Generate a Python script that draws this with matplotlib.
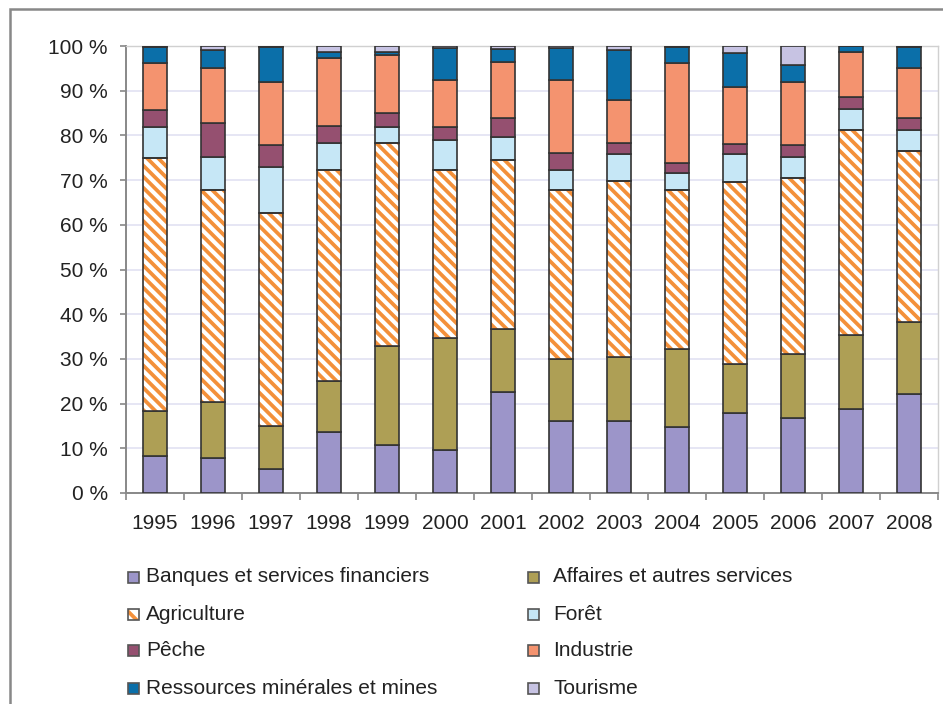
import numpy as np
import matplotlib
matplotlib.use("Agg")
import matplotlib.pyplot as plt
from matplotlib.patches import Rectangle
from matplotlib.ticker import FuncFormatter, MultipleLocator

#-----Data-----#
Years = ["1995","1996","1997","1998","1999","2000","2001","2002","2003","2004","2005","2006","2007","2008"]

Banques    = [8.3, 7.8, 5.3, 13.7, 10.7, 9.6, 22.7, 16.0, 16.0, 14.8, 17.8, 16.7, 18.7, 22.1]
Affaires   = [10.1, 12.6, 9.8, 11.4, 22.2, 25.0, 13.9, 14.0, 14.5, 17.4, 11.0, 14.4, 16.6, 16.2]
Agriculture= [56.5, 47.4, 47.6, 47.2, 45.5, 37.7, 38.0, 37.8, 39.4, 35.6, 40.8, 39.3, 45.9, 38.3]
Foret      = [6.9, 7.4, 10.2, 6.1, 3.5, 6.7, 5.0, 4.5, 5.9, 3.7, 6.2, 4.8, 4.6, 4.6]
Peche      = [3.9, 7.5, 5.0, 3.7, 3.0, 2.9, 4.4, 3.8, 2.6, 2.3, 2.3, 2.7, 2.9, 2.6]
Industrie  = [10.6, 12.4, 14.1, 15.3, 13.1, 10.6, 12.5, 16.4, 9.5, 22.5, 12.8, 14.1, 10.0, 11.2]
Mines      = [3.4, 4.0, 7.7, 1.3, 0.7, 7.0, 2.8, 7.0, 11.1, 3.5, 7.6, 3.7, 1.2, 4.7]
Tourisme   = [0.3, 0.9, 0.3, 1.3, 1.3, 0.5, 0.7, 0.5, 1.0, 0.2, 1.5, 4.3, 0.1, 0.3]

Labels = ["Banques et services financiers", "Affaires et autres services",
          "Agriculture", "Forêt", "Pêche", "Industrie",
          "Ressources minérales et mines", "Tourisme"]
Colors = ["#9c95c9", "#ae9f55", "white", "#c6e7f6", "#955070", "#f4936f", "#0b6fa9", "#c7c3e3"]
#-----Data-----#

HatchColor = "#f3903a"
EdgeColor = "#333333"
W, H = 943, 704

plt.rcParams["font.family"] = ["Liberation Sans", "DejaVu Sans"]
plt.rcParams["hatch.linewidth"] = 2.7

Fig = plt.figure(figsize=(W/100, H/100), dpi=100)
Ax = Fig.add_axes([126/W, 1-493/H, 812/W, 447/H])

Series = [Banques, Affaires, Agriculture, Foret, Peche, Industrie, Mines, Tourisme]
x = np.arange(len(Years))
Bottom = np.zeros(len(Years))
for i, Values in enumerate(Series):
    Values = np.array(Values)
    if Labels[i] == "Agriculture":
        #hatched bar first, dark outline drawn on top of it
        Ax.bar(x, Values, 0.43, bottom=Bottom, color="white", edgecolor=HatchColor,
               hatch="\\\\\\", linewidth=0, zorder=3)
        Ax.bar(x, Values, 0.43, bottom=Bottom, fill=False, edgecolor=EdgeColor,
               linewidth=1.2, zorder=4)
    else:
        Ax.bar(x, Values, 0.43, bottom=Bottom, color=Colors[i], edgecolor=EdgeColor,
               linewidth=1.2, zorder=3)
    Bottom = Bottom + Values

#-----Axes styling-----#
Ax.set_xlim(-0.5, len(Years)-0.5)
Ax.set_ylim(0, 100)
Ax.yaxis.set_major_locator(MultipleLocator(10))
Ax.yaxis.set_major_formatter(FuncFormatter(lambda v, p: "%d %%" % v))
Ax.set_xticks(x)
Ax.set_xticklabels(Years)
Ax.set_xticks(np.arange(len(Years)+1)-0.5, minor=True)
Ax.tick_params(axis="x", which="major", length=0, pad=15, labelsize=15, labelcolor="#222222")
Ax.tick_params(axis="x", which="minor", length=5, color="#888888", width=1.2)
Ax.tick_params(axis="y", length=4, color="#888888", width=1.2, pad=9, labelsize=15, labelcolor="#222222")
Ax.grid(axis="y", color="#e2e2f2", linewidth=1.2, zorder=0)
Ax.set_axisbelow(True)
for Side in ["left", "bottom"]:
    Ax.spines[Side].set_color("#888888")
    Ax.spines[Side].set_linewidth(1.4)
for Side in ["top", "right"]:
    Ax.spines[Side].set_color("#d0d0d0")
    Ax.spines[Side].set_linewidth(1.0)

#-----Legend (two columns, placed by hand)-----#
RowY = [577, 614, 650, 688]
MarkX = [128, 528]
TextX = [146, 553]
Size = 11
for i, Label in enumerate(Labels):
    Col = i % 2
    Row = i // 2
    Yc = RowY[Row]
    Corner = (MarkX[Col]/W, 1-(Yc+Size/2)/H)
    if Label == "Agriculture":
        Box = Rectangle(Corner, Size/W, Size/H, transform=Fig.transFigure,
                        facecolor="white", edgecolor=HatchColor, hatch="\\\\", linewidth=0)
        Fig.add_artist(Box)
        Box = Rectangle(Corner, Size/W, Size/H, transform=Fig.transFigure,
                        fill=False, edgecolor="#555555", linewidth=1.2)
    else:
        Box = Rectangle(Corner, Size/W, Size/H, transform=Fig.transFigure,
                        facecolor=Colors[i], edgecolor="#555555", linewidth=1.2)
    Fig.add_artist(Box)
    Fig.text(TextX[Col]/W, 1-Yc/H, Label, fontsize=15, color="#222222", va="center", ha="left")

#-----Outer frame-----#
Frame = Rectangle((10/W, -0.05), 1.2, 1-9/H+0.05, transform=Fig.transFigure,
                  fill=False, edgecolor="#888888", linewidth=1.8)
Fig.add_artist(Frame)

Fig.savefig("out.png", dpi=100)
